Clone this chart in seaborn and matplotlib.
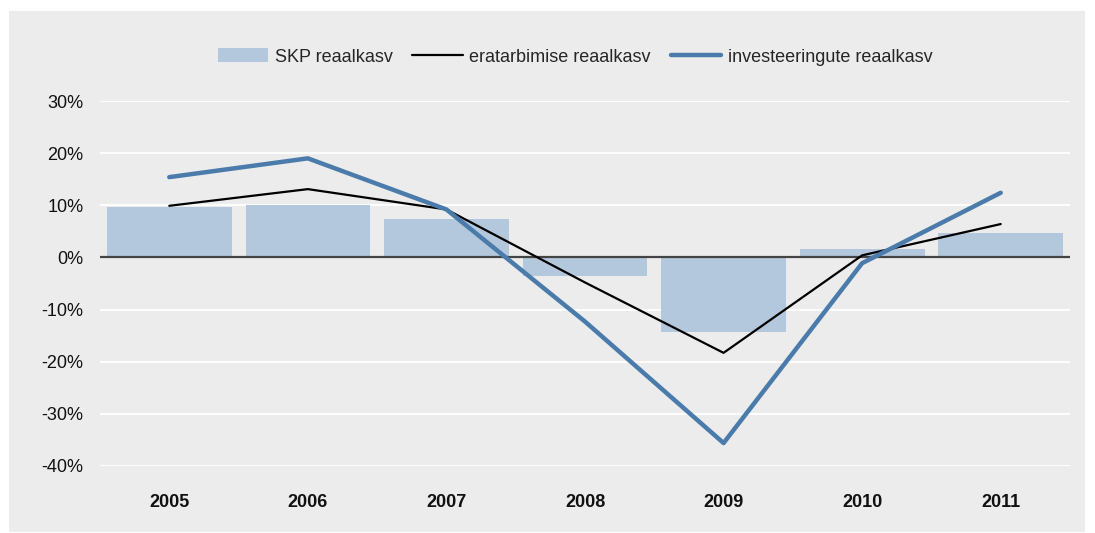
import numpy as np
import pandas as pd
import matplotlib
matplotlib.use("Agg")
import matplotlib.pyplot as plt
from matplotlib.patches import Rectangle, Patch
from matplotlib.lines import Line2D
from matplotlib.ticker import FuncFormatter
import seaborn as sns

years = ["2005", "2006", "2007", "2008", "2009", "2010", "2011"]
skp = [9.6, 10.0, 7.3, -3.6, -14.3, 1.6, 4.7]
tarbimine = [9.9, 13.1, 9.2, -4.8, -18.3, 0.4, 6.4]
investeeringud = [15.4, 19.0, 9.2, -12.3, -35.6, -1.1, 12.4]
yticks = [30, 20, 10, 0, -10, -20, -30, -40]
labels = ["SKP reaalkasv", "eratarbimise reaalkasv", "investeeringute reaalkasv"]

sns.set_theme(style="white")
plt.rcParams['font.family'] = ['Liberation Sans', 'DejaVu Sans']

BG = "#ebeceb"
BAR = "#b3c8dc"
BLUE = "#4a7bab"

fig = plt.figure(figsize=(10.95, 5.33), dpi=100)
fig.patch.set_facecolor("white")
fig.patches.append(Rectangle((9/1095, 1-532/533), (1085-9)/1095, (532-11)/533,
                             transform=fig.transFigure, facecolor=BG, edgecolor="none", zorder=-10))

ax = fig.add_axes([100/1095, 1-466/533, 970/1095, 365/533])
ax.set_zorder(1)
ax.set_facecolor("none")

df = pd.DataFrame({"year": years, "skp": skp, "tarb": tarbimine, "inv": investeeringud})

for t in yticks:
    ax.axhline(t, color="white", lw=1.3, zorder=0)

sns.barplot(data=df, x="year", y="skp", color=BAR, width=0.9, saturation=1,
            linewidth=0, edgecolor="none", ax=ax, zorder=1)
ax.axhline(0, color="#444444", lw=1.6, zorder=2)
sns.lineplot(data=df, x="year", y="tarb", sort=False, color="black", lw=1.6, ax=ax, zorder=3)
sns.lineplot(data=df, x="year", y="inv", sort=False, color=BLUE, lw=3.2, ax=ax, zorder=4)

ax.set_xlim(-0.5, 6.5)
ax.set_ylim(-40, 30)
ax.set_yticks(yticks)
ax.yaxis.set_major_formatter(FuncFormatter(lambda v, p: f"{int(v)}%"))
ax.set_xlabel("")
ax.set_ylabel("")
for s in ax.spines.values():
    s.set_visible(False)
ax.tick_params(axis="y", length=0, pad=12, labelsize=13, labelcolor="#111111")
ax.tick_params(axis="x", length=0, pad=20, labelsize=13, labelcolor="#111111")
for lab in ax.get_xticklabels():
    lab.set_fontweight("bold")

handles = [Patch(facecolor=BAR, edgecolor="none"),
           Line2D([], [], color="black", lw=1.6),
           Line2D([], [], color=BLUE, lw=3.2)]
fig.legend(handles, labels, loc="center", bbox_to_anchor=(575/1095, 1-57/533), ncol=3,
           frameon=False, fontsize=13, handlelength=2.8, handleheight=0.8,
           handletextpad=0.35, columnspacing=1.1)

fig.savefig("out.png", dpi=100, facecolor="white")
